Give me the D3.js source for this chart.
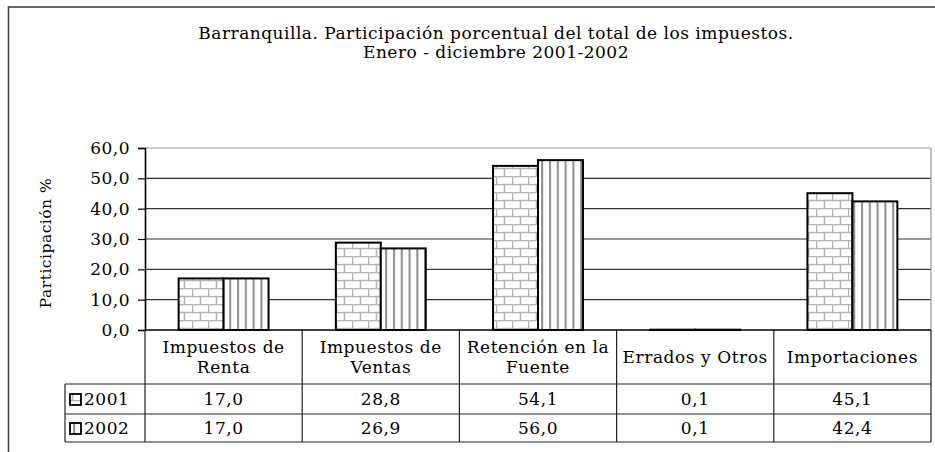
<!DOCTYPE html>
<html>
<head>
<meta charset="utf-8">
<script src="https://cdn.jsdelivr.net/npm/d3@7"></script>
<style>
  body { margin: 0; background: #fff; }
</style>
</head>
<body>
<div id="chart"></div>
<script>
// values
const categories = ["Impuestos de\nRenta", "Impuestos de\nVentas", "Retención en la\nFuente", "Errados y Otros", "Importaciones"];
const years = ["2001", "2002"];
const values2001 = [17.0, 28.8, 54.1, 0.1, 45.1];
const values2002 = [17.0, 26.9, 56.0, 0.1, 42.4];
const yTicks = [0, 10, 20, 30, 40, 50, 60];
const titleLines = ["Barranquilla. Participación porcentual del total de los impuestos.", "Enero - diciembre 2001-2002"];
const yTitle = "Participación %";

const W = 935, H = 452;
const FONT = "DejaVu Serif";
// plot area in page coordinates
let plot = {left: 145, right: 931, top: 148, bottom: 330};
let table = {legendLeft: 65, headBottom: 384, row1: 414, row2: 442};

let svg = d3.select("#chart").append("svg")
    .attr("width", W).attr("height", H)
    .attr("font-family", FONT);

// patterns for the two series
let defs = svg.append("defs");
let brick = defs.append("pattern").attr("id", "brick")
    .attr("patternUnits", "userSpaceOnUse").attr("width", 16).attr("height", 16);
brick.append("rect").attr("width", 16).attr("height", 16).attr("fill", "#fff");
brick.append("path")
    .attr("d", "M0,0.5H16M0,8.5H16M0.5,0V8M8.5,8V16")
    .attr("stroke", "#b4b4b4").attr("stroke-width", 1.6).attr("fill", "none");
let stripe = defs.append("pattern").attr("id", "stripe")
    .attr("patternUnits", "userSpaceOnUse").attr("width", 7.8).attr("height", 10);
stripe.append("rect").attr("width", 7.8).attr("height", 10).attr("fill", "#fff");
stripe.append("rect").attr("x", 3).attr("width", 2).attr("height", 10).attr("fill", "#8c8c8c");
const fills = {"2001": "url(#brick)", "2002": "url(#stripe)"};

// outer chart frame (runs off the right and bottom)
svg.append("rect")
    .attr("x", 8.5).attr("y", 7).attr("width", W).attr("height", H)
    .attr("fill", "none").attr("stroke", "#444").attr("stroke-width", 1.6);

// title
svg.append("text")
    .attr("y", 39)
    .attr("text-anchor", "middle")
    .attr("font-family", FONT)
    .style("font-size", "17px").style("letter-spacing", "0.5px")
    .selectAll("tspan").data(titleLines).enter().append("tspan")
    .attr("x", 496).attr("dy", (d, i) => i ? 19 : 0)
    .text(d => d);

// scales
let vScale = d3.scaleLinear().domain([0, 60]).range([plot.bottom, plot.top]);
let hScale = d3.scaleBand().domain(d3.range(categories.length)).range([plot.left, plot.right]);
let bw = hScale.bandwidth();
let sScale = d3.scaleBand().domain(years).range([bw * 0.214, bw * 0.786]);
let fmt = v => d3.format(".1f")(v).replace(".", ",");

// gridlines
svg.append("g").selectAll("line").data(yTicks.slice(1)).enter().append("line")
    .attr("x1", plot.left).attr("x2", plot.right)
    .attr("y1", d => vScale(d)).attr("y2", d => vScale(d))
    .attr("stroke", d => d === 60 ? "#9a9a9a" : "#333").attr("stroke-width", 1.2);
// plot-area right border
svg.append("line")
    .attr("x1", plot.right).attr("x2", plot.right)
    .attr("y1", plot.top).attr("y2", plot.bottom)
    .attr("stroke", "#9a9a9a").attr("stroke-width", 1.2);

// bars
let seriesData = [];
for (let i = 0; i < categories.length; i++) {
    seriesData.push({cat: i, year: "2001", value: values2001[i]});
    seriesData.push({cat: i, year: "2002", value: values2002[i]});
}
svg.append("g").selectAll(".bar")
    .data(seriesData)
    .enter().append("rect")
    .attr("class", "bar")
    .attr("x", d => hScale(d.cat) + sScale(d.year))
    .attr("y", d => vScale(d.value))
    .attr("width", sScale.bandwidth())
    .attr("height", d => plot.bottom - vScale(d.value))
    .attr("fill", d => fills[d.year])
    .attr("stroke", "#000").attr("stroke-width", 2);

// y axis
let yAxis = d3.axisLeft(vScale).tickValues(yTicks).tickSize(7).tickPadding(8).tickFormat(fmt);
let yG = svg.append("g")
    .attr("transform", `translate(${plot.left}, 0)`)
    .call(yAxis)
    .attr("font-family", FONT).attr("font-size", 17);
yG.select(".domain").attr("stroke", "#000").attr("stroke-width", 1.6);
yG.selectAll(".tick line").attr("stroke", "#000").attr("stroke-width", 1.2);
yG.selectAll(".tick text").attr("fill", "#000").style("letter-spacing", "0.5px");

svg.append("text")
    .attr("transform", `translate(51, ${(plot.top + plot.bottom) / 2 + 4}) rotate(-90)`)
    .attr("text-anchor", "middle")
    .attr("font-family", FONT)
    .style("font-size", "15.5px").style("letter-spacing", "0.5px")
    .text(yTitle);

// data table
let tbl = svg.append("g").attr("stroke", "#222").attr("stroke-width", 1.2);
tbl.append("line").attr("x1", table.legendLeft).attr("x2", plot.right)
    .attr("y1", table.headBottom).attr("y2", table.headBottom);
tbl.append("line").attr("x1", table.legendLeft).attr("x2", plot.right)
    .attr("y1", table.row1).attr("y2", table.row1);
tbl.append("line").attr("x1", table.legendLeft).attr("x2", plot.right)
    .attr("y1", table.row2).attr("y2", table.row2);
tbl.append("line").attr("x1", table.legendLeft).attr("x2", table.legendLeft)
    .attr("y1", table.headBottom).attr("y2", table.row2);
tbl.selectAll(".col").data(d3.range(categories.length + 1)).enter().append("line")
    .attr("x1", d => d < categories.length ? hScale(d) : plot.right)
    .attr("x2", d => d < categories.length ? hScale(d) : plot.right)
    .attr("y1", plot.bottom).attr("y2", table.row2);

// x axis (zero line)
svg.append("line")
    .attr("x1", plot.left).attr("x2", plot.right)
    .attr("y1", plot.bottom).attr("y2", plot.bottom)
    .attr("stroke", "#000").attr("stroke-width", 1.6);

// header texts
const cellFont = {size: "17px", spacing: "0.55px"};
let head = svg.append("g").selectAll("text").data(categories).enter().append("text")
    .attr("text-anchor", "middle")
    .attr("font-family", FONT)
    .style("font-size", cellFont.size).style("letter-spacing", cellFont.spacing);
head.each(function(d, i) {
    let lines = d.split("\n");
    let cx = hScale(i) + bw / 2;
    let y0 = lines.length === 1 ? 363 : 353;
    d3.select(this).selectAll("tspan").data(lines).enter().append("tspan")
        .attr("x", cx).attr("y", (l, j) => y0 + j * 20)
        .text(l => l);
});

// value rows
let rows = [{year: "2001", vals: values2001, y: (table.headBottom + table.row1) / 2},
            {year: "2002", vals: values2002, y: (table.row1 + table.row2) / 2}];
rows.forEach(function(r) {
    svg.append("g").selectAll("text").data(r.vals).enter().append("text")
        .attr("x", (d, i) => hScale(i) + bw / 2)
        .attr("y", r.y + 6)
        .attr("text-anchor", "middle")
        .attr("font-family", FONT)
        .style("font-size", cellFont.size).style("letter-spacing", cellFont.spacing)
        .text(d => fmt(d));
    // legend key + year
    svg.append("rect")
        .attr("x", 70).attr("y", r.y - 5).attr("width", 11).attr("height", 11)
        .attr("fill", fills[r.year]).attr("stroke", "#000").attr("stroke-width", 1.8);
    svg.append("text")
        .attr("x", 84).attr("y", r.y + 6)
        .attr("font-family", FONT)
        .style("font-size", cellFont.size).style("letter-spacing", cellFont.spacing)
        .text(r.year);
});
</script>
</body>
</html>
